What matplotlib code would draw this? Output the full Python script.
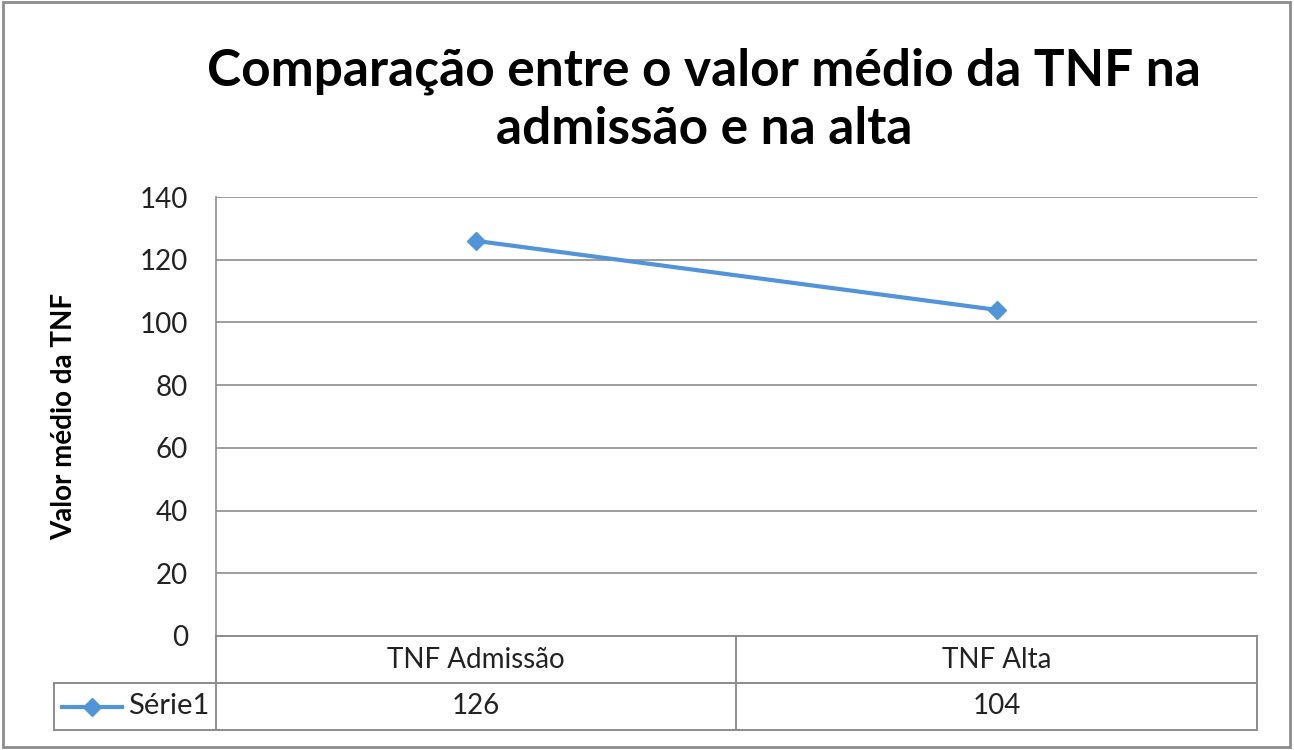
import matplotlib.pyplot as plt
from matplotlib.patches import Rectangle
from matplotlib.lines import Line2D

categories = ["TNF Admissão", "TNF Alta"]
values = [126, 104]
series_name = "Série1"
y_ticks = [0, 20, 40, 60, 80, 100, 120, 140]

plt.rcParams['font.family'] = ['Lato', 'DejaVu Sans']

W, H = 1294, 750
fig = plt.figure(figsize=(W / 100, H / 100), dpi=100)

# pixel layout of the plot area
left, right, top, bottom = 216, 1257, 197, 636
ax = fig.add_axes([left / W, 1 - bottom / H, (right - left) / W, (bottom - top) / H])

line_color = "#5194D8"
grid_color = "#8C8C8C"
text_color = "#222222"

x = list(range(len(categories)))
ax.plot(x, values, color=line_color, lw=3, marker="D", ms=9, zorder=3)
ax.set_xlim(-0.5, len(categories) - 0.5)
ax.set_ylim(min(y_ticks), max(y_ticks))
ax.set_yticks(y_ticks)
ax.set_xticks([])
ax.tick_params(axis="y", length=0, pad=20, labelsize=20, labelcolor=text_color)
ax.yaxis.grid(True, color=grid_color, lw=1.2)
ax.set_axisbelow(True)
for side in ["top", "right", "bottom"]:
    ax.spines[side].set_visible(False)
ax.spines["left"].set_color(grid_color)
ax.spines["left"].set_linewidth(1.2)

ax.set_ylabel("Valor médio da TNF", fontsize=20, fontweight="bold", labelpad=45)

# data table below the plot area
row_h = 47
def fy(py):
    return 1 - py / H
def fx(px):
    return px / W

tbl_kw = dict(color=grid_color, lw=1.4, transform=fig.transFigure)
r1, r2 = bottom + row_h, bottom + 2 * row_h
leg_left = 54
mid = (left + right) / 2
fig.add_artist(Line2D([fx(left), fx(right)], [fy(bottom), fy(bottom)], **tbl_kw))
fig.add_artist(Line2D([fx(leg_left), fx(right)], [fy(r1), fy(r1)], **tbl_kw))
fig.add_artist(Line2D([fx(leg_left), fx(right)], [fy(r2), fy(r2)], **tbl_kw))
for px in [left, mid, right]:
    fig.add_artist(Line2D([fx(px), fx(px)], [fy(bottom), fy(r2)], **tbl_kw))
fig.add_artist(Line2D([fx(leg_left), fx(leg_left)], [fy(r1), fy(r2)], **tbl_kw))

col_w = (right - left) / len(categories)
for i, (cat, val) in enumerate(zip(categories, values)):
    cx = fx(left + col_w * (i + 0.5))
    fig.text(cx, fy(bottom + row_h / 2), cat, ha="center", va="center",
             fontsize=20, color=text_color)
    fig.text(cx, fy(r1 + row_h / 2), str(val), ha="center", va="center",
             fontsize=20, color=text_color)

# legend key in the table
ky = fy(r1 + row_h / 2)
fig.add_artist(Line2D([fx(62), fx(122)], [ky, ky], color=line_color, lw=3,
                      transform=fig.transFigure))
fig.add_artist(Line2D([fx(92)], [ky], color=line_color, marker="D", ms=9,
                      transform=fig.transFigure))
fig.text(fx(128), ky, series_name, ha="left", va="center", fontsize=21,
         color=text_color)

# title
fig.text(fx(704), fy(100), "Comparação entre o valor médio da TNF na\nadmissão e na alta",
         ha="center", va="center", fontsize=37, fontweight="bold",
         linespacing=1.3)

# chart area border
fig.add_artist(Rectangle((fx(3), fy(747)), fx(1290) - fx(3), fy(2) - fy(747),
                         fill=False, edgecolor="#8C8C8C", lw=2,
                         transform=fig.transFigure))

fig.savefig("out.png", dpi=100)
